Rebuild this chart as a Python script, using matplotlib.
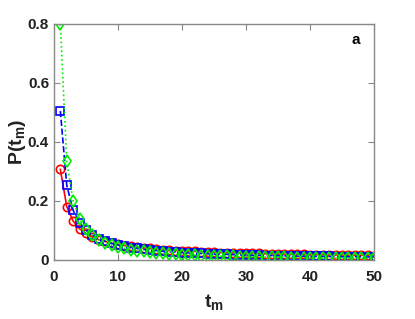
import numpy as np
import matplotlib
matplotlib.use('Agg')
import matplotlib.pyplot as plt

plt.rcParams['font.family'] = ['Liberation Sans', 'DejaVu Sans']
plt.rcParams['mathtext.fontset'] = 'custom'
plt.rcParams['mathtext.rm'] = 'Liberation Sans:bold'
plt.rcParams['mathtext.it'] = 'Liberation Sans:bold'
plt.rcParams['mathtext.bf'] = 'Liberation Sans:bold'

t = list(range(1, 51))

# red circles, solid line
p_red = [0.307, 0.181, 0.132, 0.106, 0.090, 0.078, 0.069, 0.063, 0.057, 0.053,
         0.049, 0.046, 0.043, 0.041, 0.039, 0.037, 0.035, 0.034, 0.032, 0.031,
         0.030, 0.029, 0.028, 0.027, 0.026, 0.025, 0.025, 0.024, 0.023, 0.023,
         0.022, 0.022, 0.021, 0.021, 0.020, 0.020, 0.019, 0.019, 0.019, 0.018,
         0.018, 0.018, 0.017, 0.017, 0.017, 0.016, 0.016, 0.016, 0.016, 0.015]

# blue squares, dashed line
p_blue = [0.505, 0.253, 0.168, 0.126, 0.101, 0.084, 0.072, 0.063, 0.056, 0.051,
          0.046, 0.042, 0.039, 0.036, 0.034, 0.032, 0.030, 0.028, 0.027, 0.025,
          0.024, 0.023, 0.022, 0.021, 0.020, 0.019, 0.019, 0.018, 0.017, 0.017,
          0.016, 0.016, 0.015, 0.015, 0.014, 0.014, 0.014, 0.013, 0.013, 0.013,
          0.012, 0.012, 0.012, 0.011, 0.011, 0.011, 0.011, 0.011, 0.010, 0.010]

# green diamonds, dotted line
p_green = [0.800, 0.334, 0.200, 0.139, 0.105, 0.083, 0.069, 0.058, 0.050, 0.044,
           0.039, 0.035, 0.031, 0.029, 0.026, 0.024, 0.022, 0.021, 0.019, 0.018,
           0.017, 0.016, 0.015, 0.015, 0.014, 0.013, 0.012, 0.012, 0.011, 0.011,
           0.010, 0.010, 0.010, 0.009, 0.009, 0.009, 0.008, 0.008, 0.008, 0.008,
           0.007, 0.007, 0.007, 0.007, 0.007, 0.006, 0.006, 0.006, 0.006, 0.006]

fig = plt.figure(figsize=(4.15, 3.19), dpi=100)
ax = fig.add_axes([0.130, 0.185, 0.771, 0.740])

ax.plot(t, p_red, '-', color='red', marker='o', mfc='none', ms=6, mew=1.2, lw=1.2)
ax.plot(t, p_blue, '--', color='blue', marker='s', mfc='none', ms=5.5, mew=1.2, lw=1.2)
ax.plot(t, p_green, ':', color='#00ee00', marker='d', mfc='none', ms=6.5, mew=1.2, lw=1.2)

ax.set_xlim(0, 50)
ax.set_ylim(0, 0.8)
ax.set_xticks([0, 10, 20, 30, 40, 50])
ax.set_yticks([0, 0.2, 0.4, 0.6, 0.8])
ax.set_yticklabels(['0', '0.2', '0.4', '0.6', '0.8'])

for s in ax.spines.values():
    s.set_color('#888888')
    s.set_linewidth(1.0)
ax.tick_params(direction='in', top=True, right=True, color='#888888',
               length=4, labelsize=11)
ax.tick_params(axis='x', pad=7)
for lab in ax.get_xticklabels() + ax.get_yticklabels():
    lab.set_fontweight('bold')
    lab.set_color('#222222')

ax.set_xlabel(r'$\mathbf{t_m}$', fontsize=14, color='#222222', labelpad=6)
ax.set_ylabel(r'$\mathbf{P(t_m)}$', fontsize=14, color='#222222', labelpad=0)
ax.text(0.955, 0.93, 'a', transform=ax.transAxes, fontsize=11,
        fontweight='bold', ha='right', va='center')

fig.savefig('out.png', dpi=100)
